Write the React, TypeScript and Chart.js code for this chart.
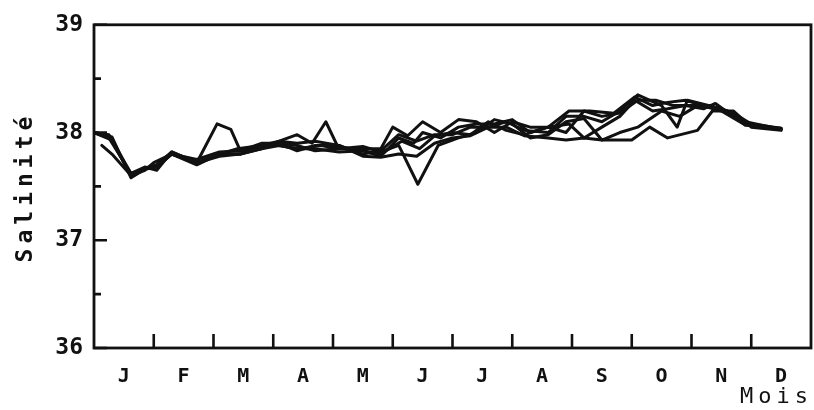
import React, { useEffect, useRef } from "react";
import { Chart, registerables } from "chart.js";

Chart.register(...registerables);

const MONTHS = ["J", "F", "M", "A", "M", "J", "J", "A", "S", "O", "N", "D"];
const Y_TICKS = [36, 37, 38, 39];
const Y_MINOR = [36.5, 37.5, 38.5];
const MONTH_BOUNDS = [1, 2, 3, 4, 5, 6, 7, 8, 9, 10, 11];
const Y_TITLE = "Salinité";
const X_TITLE = "Mois";

// [month position, salinity]
const year1 = [[0,38.0],[0.25,37.97],[0.62,37.6],[0.85,37.67],[1.05,37.7],[1.3,37.82],[1.72,37.72],[2.06,38.08],[2.29,38.03],[2.45,37.83],[2.8,37.85],[3.1,37.9],[3.4,37.88],[3.7,37.83],[4.1,37.85],[4.5,37.85],[4.8,37.85],[5.0,38.05],[5.25,37.97],[5.5,38.1],[5.8,38.0],[6.1,38.12],[6.4,38.1],[6.7,38.0],[7.0,38.1],[7.3,38.05],[7.6,38.05],[7.95,38.2],[8.3,38.2],[8.7,38.18],[9.05,38.33],[9.35,38.25],[9.6,38.28],[9.9,38.3],[10.2,38.25],[10.5,38.2],[10.9,38.07],[11.2,38.05],[11.5,38.03]];
const year2 = [[0,38.0],[0.3,37.93],[0.62,37.6],[0.85,37.65],[1.0,37.72],[1.3,37.8],[1.72,37.72],[2.1,37.8],[2.4,37.85],[2.8,37.88],[3.1,37.92],[3.4,37.98],[3.65,37.9],[3.88,38.1],[4.08,37.87],[4.5,37.83],[4.8,37.8],[5.15,37.92],[5.45,37.85],[5.7,37.97],[6.0,38.0],[6.3,37.98],[6.6,38.1],[6.9,38.02],[7.2,37.98],[7.6,38.05],[7.95,38.08],[8.2,37.95],[8.5,38.05],[8.8,38.15],[9.05,38.3],[9.35,38.2],[9.6,38.22],[9.9,38.25],[10.2,38.22],[10.4,38.27],[10.75,38.13],[11.0,38.07],[11.5,38.03]];
const year3 = [[0,38.0],[0.25,37.98],[0.62,37.62],[0.85,37.68],[1.05,37.65],[1.3,37.82],[1.72,37.72],[2.1,37.78],[2.45,37.8],[2.8,37.88],[3.1,37.88],[3.4,37.85],[3.8,37.88],[4.1,37.85],[4.5,37.87],[4.8,37.82],[5.1,37.88],[5.42,37.52],[5.76,37.88],[6.1,37.95],[6.4,38.0],[6.7,38.12],[7.0,38.08],[7.3,37.95],[7.6,37.98],[7.9,38.1],[8.2,38.13],[8.5,37.93],[8.8,38.0],[9.1,38.05],[9.5,38.2],[9.8,38.15],[10.1,38.25],[10.4,38.22],[10.7,38.18],[11.0,38.08],[11.5,38.04]];
const year4 = [[0.13,37.88],[0.3,37.8],[0.62,37.6],[0.85,37.67],[1.05,37.68],[1.3,37.8],[1.72,37.75],[2.1,37.82],[2.45,37.83],[2.8,37.9],[3.1,37.9],[3.4,37.83],[3.7,37.88],[4.1,37.88],[4.5,37.78],[4.8,37.77],[5.1,37.8],[5.4,37.78],[5.7,37.9],[6.0,37.95],[6.3,37.97],[6.6,38.05],[6.9,38.05],[7.2,37.97],[7.6,37.95],[7.9,37.93],[8.2,37.95],[8.5,37.93],[8.8,37.93],[9.0,37.93],[9.3,38.05],[9.6,37.95],[10.1,38.02],[10.35,38.2],[10.7,38.2],[11.0,38.05],[11.5,38.02]];
const year5 = [[0,38.0],[0.25,37.95],[0.62,37.62],[0.85,37.66],[1.05,37.7],[1.3,37.8],[1.72,37.7],[2.1,37.8],[2.45,37.8],[2.8,37.85],[3.1,37.92],[3.4,37.9],[3.7,37.92],[4.1,37.88],[4.5,37.8],[4.8,37.83],[5.1,37.98],[5.4,37.92],[5.7,37.98],[6.0,37.98],[6.3,38.05],[6.6,38.05],[6.9,38.1],[7.2,38.02],[7.6,38.0],[7.9,38.15],[8.2,38.15],[8.5,38.1],[8.8,38.2],[9.1,38.35],[9.5,38.25],[9.76,38.05],[9.93,38.3],[10.3,38.25],[10.6,38.2],[10.9,38.1],[11.5,38.03]];
const year6 = [[0,38.0],[0.3,37.96],[0.62,37.58],[0.85,37.66],[1.05,37.68],[1.3,37.8],[1.72,37.72],[2.1,37.8],[2.45,37.8],[2.8,37.85],[3.1,37.88],[3.4,37.85],[3.7,37.85],[4.1,37.82],[4.5,37.83],[4.8,37.78],[5.1,37.95],[5.35,37.9],[5.5,38.0],[5.8,37.95],[6.1,38.05],[6.4,38.08],[6.7,38.08],[7.0,38.12],[7.3,38.0],[7.6,38.05],[7.9,38.0],[8.2,38.2],[8.5,38.15],[8.8,38.18],[9.1,38.3],[9.4,38.3],[9.7,38.25],[10.0,38.25],[10.3,38.25],[10.6,38.2],[10.9,38.07],[11.5,38.04]];

const SERIES = [year1, year2, year3, year4, year5, year6];

const FONT = '"DejaVu Sans Mono", monospace';

const framePlugin = {
  id: "frame",
  afterDraw(chart: any) {
    const { ctx, chartArea: a, scales } = chart;
    const x = scales.x;
    const y = scales.y;
    ctx.save();
    ctx.strokeStyle = "#111";
    ctx.lineWidth = 2.8;
    ctx.strokeRect(a.left, a.top, a.right - a.left, a.bottom - a.top);
    ctx.lineWidth = 2.6;
    ctx.beginPath();
    Y_TICKS.forEach((v) => {
      const py = y.getPixelForValue(v);
      ctx.moveTo(a.left, py);
      ctx.lineTo(a.left + 13, py);
    });
    Y_MINOR.forEach((v) => {
      const py = y.getPixelForValue(v);
      ctx.moveTo(a.left, py);
      ctx.lineTo(a.left + 7, py);
    });
    MONTH_BOUNDS.forEach((v) => {
      const px = x.getPixelForValue(v);
      ctx.moveTo(px, a.bottom);
      ctx.lineTo(px, a.bottom - 14);
    });
    ctx.stroke();

    ctx.fillStyle = "#111";
    ctx.textBaseline = "middle";
    ctx.textAlign = "left";
    // y title
    ctx.save();
    ctx.translate(26, 189);
    ctx.rotate(-Math.PI / 2);
    ctx.font = `bold 23px ${FONT}`;
    (ctx as any).letterSpacing = "5px";
    const w = ctx.measureText(Y_TITLE).width;
    ctx.fillText(Y_TITLE, -w / 2 + 2, 0);
    ctx.restore();
    // x title
    ctx.save();
    ctx.font = `22px ${FONT}`;
    (ctx as any).letterSpacing = "5px";
    ctx.fillText(X_TITLE, 740, 397);
    ctx.restore();
    ctx.restore();
  },
};

export default function App() {
  const ref = useRef<HTMLCanvasElement>(null);
  useEffect(() => {
    if (!ref.current) return;
    const chart = new Chart(ref.current, {
      type: "line",
      data: {
        datasets: SERIES.map((s) => ({
          data: s.map(([m, v]) => ({ x: m, y: v })),
          borderColor: "#111",
          borderWidth: 3,
          pointRadius: 0,
          tension: 0,
          fill: false,
          borderJoinStyle: "round" as const,
          borderCapStyle: "round" as const,
        })),
      },
      options: {
        animation: false,
        responsive: false,
        layout: { padding: { left: 0, right: 3, top: 23, bottom: 0 } },
        plugins: { legend: { display: false }, tooltip: { enabled: false } },
        scales: {
          x: {
            type: "linear",
            min: 0,
            max: 12,
            afterBuildTicks: (s: any) => {
              s.ticks = MONTHS.map((_, i) => ({ value: i + 0.5 }));
            },
            afterFit: (s: any) => {
              s.height = 62;
            },
            grid: { display: false, drawTicks: false },
            border: { display: false },
            ticks: {
              autoSkip: false,
              maxRotation: 0,
              padding: 17,
              color: "#111",
              font: { family: FONT, size: 20, weight: "bold" },
              callback: (v: any) => MONTHS[Math.floor(Number(v))] ?? "",
            },
          },
          y: {
            type: "linear",
            min: 36,
            max: 39,
            afterBuildTicks: (s: any) => {
              s.ticks = Y_TICKS.map((v) => ({ value: v }));
            },
            afterFit: (s: any) => {
              s.width = 94;
            },
            grid: { display: false, drawTicks: false },
            border: { display: false },
            ticks: {
              padding: 11,
              color: "#111",
              font: { family: FONT, size: 23, weight: "bold" },
              callback: (v: any) => String(v),
            },
          },
        },
      },
      plugins: [framePlugin],
    });
    return () => chart.destroy();
  }, []);
  return (
    <div style={{ position: "fixed", left: 0, top: 0, width: 814, height: 410, background: "#fff" }}>
      <canvas ref={ref} width={814} height={410} />
    </div>
  );
}
